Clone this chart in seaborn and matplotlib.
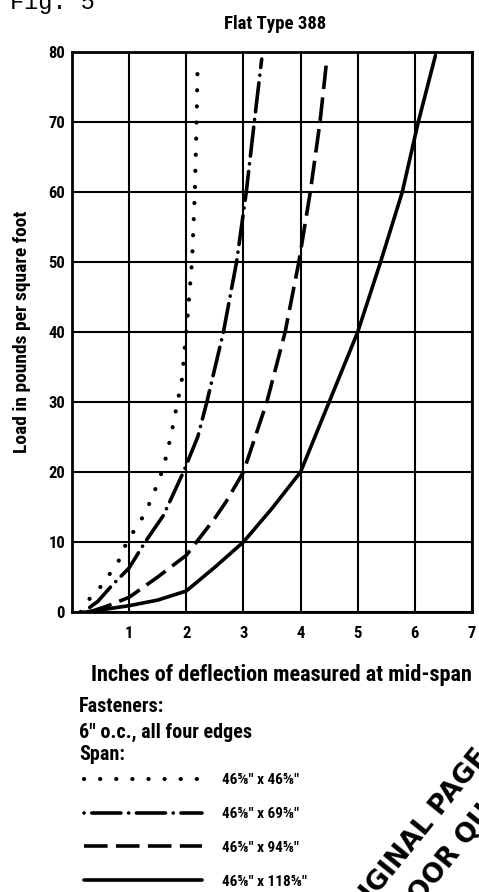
import matplotlib
matplotlib.use("Agg")
import matplotlib.pyplot as plt
import pandas as pd
import seaborn as sns

# Deflection (inches) vs. load (psf) for each panel span
dot_x = [0.15, 0.23, 0.43, 0.63, 0.8, 0.96, 1.25, 1.4, 1.6, 1.73, 1.84, 1.92, 2.0, 2.1, 2.15, 2.18, 2.2]
dot_y = [0, 1.3, 2.8, 5.1, 7, 10, 13.7, 16.3, 20.6, 25.1, 29.7, 33, 40, 50, 60, 70, 79]

dashdot_x = [0.2, 0.45, 0.7, 1.0, 1.28, 1.6, 1.95, 2.2, 2.36, 2.65, 2.88, 3.05, 3.19, 3.32]
dashdot_y = [0, 1.5, 3.8, 6.3, 10, 13.8, 20, 25, 30, 40, 50, 60, 70, 79]

dash_x = [0.3, 0.6, 1.0, 1.5, 2.0, 2.5, 2.7, 3.0, 3.41, 3.73, 3.97, 4.17, 4.34, 4.46]
dash_y = [0, 0.8, 2.1, 5.0, 8.1, 13.4, 15.8, 20, 30, 40, 50, 60, 70, 79]

solid_x = [0.25, 1.0, 1.5, 2.0, 2.5, 3.0, 3.5, 4.0, 4.5, 5.0, 5.4, 5.78, 6.06, 6.36]
solid_y = [0, 0.9, 1.7, 3.0, 6.4, 10, 14.8, 20, 30, 40, 50, 60, 70, 79.5]

span_labels = ["46⅝″ x 46⅝″", "46⅝″ x 69⅝″", "46⅝″ x 94⅝″", "46⅝″ x 118⅝″"]
x_ticks = [0, 1, 2, 3, 4, 5, 6, 7]
x_tick_labels = ["", "1", "2", "3", "4", "5", "6", "7"]
y_ticks = [0, 10, 20, 30, 40, 50, 60, 70, 80]

sns.set_theme(style="white")
FONT = ["Roboto Condensed", "DejaVu Sans"]
plt.rcParams["font.family"] = FONT
plt.rcParams["lines.scale_dashes"] = False

fig = plt.figure(figsize=(4.79, 8.92), dpi=100)
ax = fig.add_axes([72 / 479, 1 - 612 / 892, 400 / 479, 560 / 892])

series = [
    (dot_x, dot_y, (0, (0.1, 11.5)), "round", 3.0),
    (dashdot_x, dashdot_y, (0, (0.1, 5.5, 21, 5.5)), "round", 2.6),
    (dash_x, dash_y, (0, (17, 6)), "butt", 2.6),
    (solid_x, solid_y, None, "butt", 2.6),
]

handles = []
for (xs, ys, dash, cap, lw), lab in zip(series, span_labels):
    df = pd.DataFrame({"x": xs, "y": ys})
    sns.lineplot(data=df, x="x", y="y", ax=ax, color="black", lw=lw,
                 estimator=None, sort=False, label=lab, legend=False)
    ln = ax.lines[-1]
    if dash is not None:
        ln.set_linestyle(dash)
    ln.set_dash_capstyle(cap)
    ln.set_solid_capstyle("round")
    handles.append(ln)

ax.set_xlim(0, 7)
ax.set_ylim(0, 80)
ax.set_xticks(x_ticks)
ax.set_xticklabels(x_tick_labels)
ax.set_yticks(y_ticks)
ax.grid(True, color="black", lw=1.5)
ax.set_axisbelow(True)
for sp in ax.spines.values():
    sp.set_color("black")
    sp.set_linewidth(2)
ax.tick_params(axis="both", length=0, labelsize=12, colors="black")
ax.tick_params(axis="x", pad=10)
ax.tick_params(axis="y", pad=5)
for t in ax.get_xticklabels() + ax.get_yticklabels():
    t.set_fontweight(900)

ax.set_xlabel("")
ax.set_ylabel("Load in pounds per square foot", fontsize=14, fontweight=900,
              color="black")
ax.yaxis.set_label_coords(-(72 - 31) / 400, 0.5)

fig.text(275 / 479, 1 - 24 / 892, "Flat Type 388", ha="center", va="center",
         fontsize=13.5, fontweight=900, color="black")
fig.text(281 / 479, 1 - 675 / 892, "Inches of deflection measured at mid-span",
         ha="center", va="center", fontsize=16, fontweight=900, color="black")

fig.text(10 / 479, 1 - 9 / 892, "Fig. 5", ha="left", va="baseline",
         fontsize=17, family=["Liberation Mono", "DejaVu Sans Mono"], color="black")

for yy, s in [(707, "Fasteners:"), (732, "6″ o.c., all four edges"), (755, "Span:")]:
    fig.text(79 / 479, 1 - yy / 892, s, ha="left", va="center",
             fontsize=14.5, fontweight=900, color="black")

leg = fig.legend(handles=handles, labels=span_labels, loc="upper left",
                 bbox_to_anchor=(78 / 479, 1 - 767 / 892), frameon=False,
                 prop={"family": FONT, "size": 11, "weight": 900},
                 handlelength=7.7, handletextpad=1.3,
                 labelspacing=1.3, borderaxespad=0)
for t in leg.get_texts():
    t.set_color("black")

# stamp in the lower right corner
STAMP = dict(rotation=51, rotation_mode="anchor", ha="left", va="baseline",
             fontsize=19, fontweight="bold", family="DejaVu Sans", color="black")
fig.text(345 / 479, 1 - 935 / 892, "ORIGINAL PAGE IS", **STAMP)
fig.text(376 / 479, 1 - 958 / 892, "OF POOR QUALITY", **STAMP)

fig.savefig("out.png", dpi=100, facecolor="white")
